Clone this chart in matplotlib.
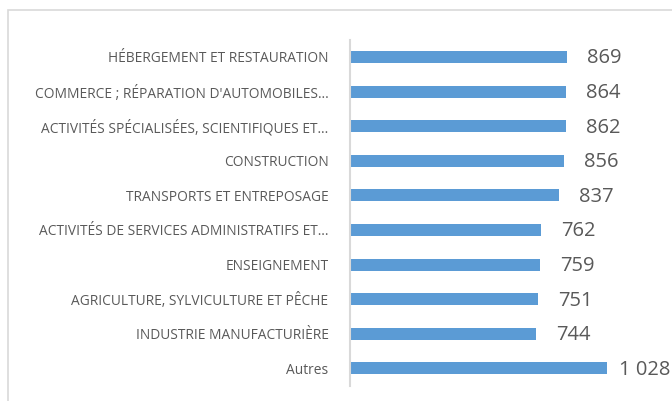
import matplotlib.pyplot as plt
from matplotlib.patches import Rectangle

categories = [
    "HÉBERGEMENT ET RESTAURATION",
    "COMMERCE ; RÉPARATION D'AUTOMOBILES…",
    "ACTIVITÉS SPÉCIALISÉES, SCIENTIFIQUES ET…",
    "CONSTRUCTION",
    "TRANSPORTS ET ENTREPOSAGE",
    "ACTIVITÉS DE SERVICES ADMINISTRATIFS ET…",
    "ENSEIGNEMENT",
    "AGRICULTURE, SYLVICULTURE ET PÊCHE",
    "INDUSTRIE MANUFACTURIÈRE",
    "Autres",
]
values = [869, 864, 862, 856, 837, 762, 759, 751, 744, 1028]

bar_color = "#5B9BD5"
text_color = "#595959"
line_color = "#D9D9D9"

plt.rcParams['font.family'] = ['Open Sans', 'DejaVu Sans']

W, H = 672, 401
fig = plt.figure(figsize=(W / 100, H / 100), dpi=100)

# outer frame of the chart area
fig.patches.append(Rectangle((8 / W, -0.05), 1.0, 1.05 - 10 / H,
                             transform=fig.transFigure, fill=False,
                             edgecolor=line_color, linewidth=1.2))

ax = fig.add_axes([350 / W, 1 - 385.7 / H, 275 / W, 346 / H])
y = list(range(len(categories)))
ax.barh(y, values, height=0.35, color=bar_color)
ax.set_xlim(0, 1100)
ax.set_ylim(len(categories) - 0.5, -0.5)

ax.set_yticks(y)
ax.set_yticklabels(categories, fontsize=9.9, color=text_color)
ax.tick_params(axis='y', length=0, pad=15.5)
ax.set_xticks([])

for s in ['top', 'right', 'bottom']:
    ax.spines[s].set_visible(False)
ax.spines['left'].set_color(line_color)
ax.spines['left'].set_linewidth(1.5)

for yi, v in zip(y, values):
    label = f"{v:,}".replace(",", " ")
    ax.annotate(label, (v, yi), xytext=(27, -1), textcoords='offset points',
                ha='center', va='center', fontsize=14.5, color=text_color)

fig.savefig("out.png", dpi=100)
